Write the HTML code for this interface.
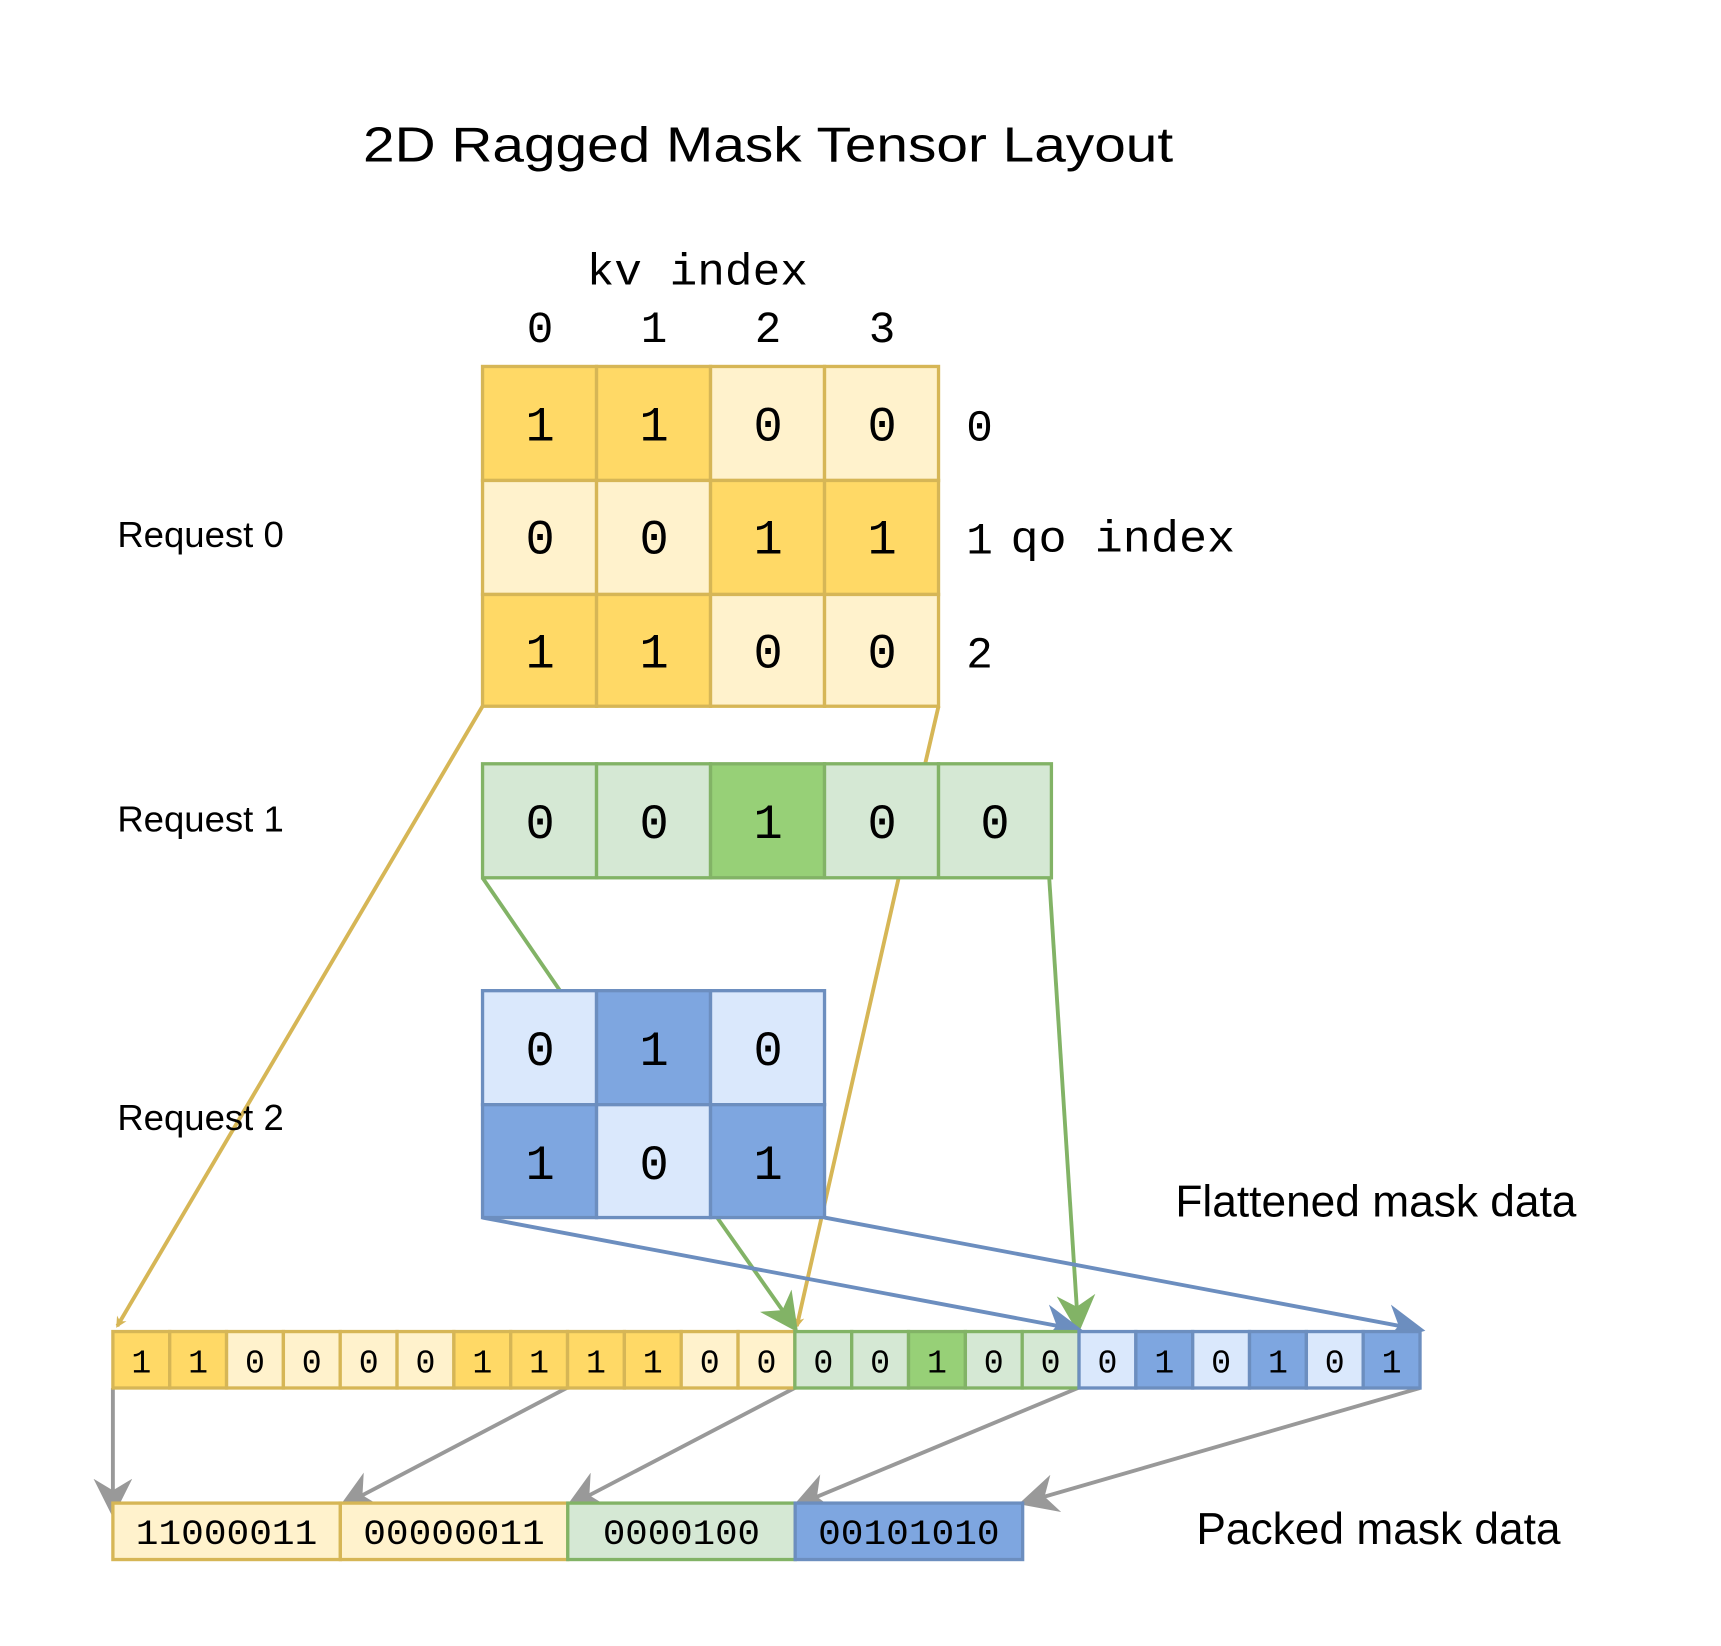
<!DOCTYPE html>
<html><head><meta charset="utf-8"><style>
html,body{margin:0;padding:0;background:#fff;}
svg{display:block}
.m{font-family:"Liberation Mono","DejaVu Sans Mono",monospace;fill:#000}
.s{font-family:"Liberation Sans",sans-serif;fill:#000}
</style></head><body>
<svg width="1721" height="1646" viewBox="0 0 1555 1487" xmlns="http://www.w3.org/2000/svg">
<defs>
<marker id="ay" markerWidth="10" markerHeight="10" refX="8" refY="5" orient="auto" markerUnits="userSpaceOnUse" viewBox="0 0 10 10"><path d="M0,0 L10,5 L0,10 L3,5 Z" fill="#D6B656"/></marker>
<marker id="ag" markerWidth="10" markerHeight="10" refX="8" refY="5" orient="auto" viewBox="0 0 10 10"><path d="M0,0 L10,5 L0,10 L3,5 Z" fill="#82B366"/></marker>
<marker id="ab" markerWidth="10" markerHeight="10" refX="8" refY="5" orient="auto" viewBox="0 0 10 10"><path d="M0,0 L10,5 L0,10 L3,5 Z" fill="#6C8EBF"/></marker>
<marker id="ax" markerWidth="10" markerHeight="10" refX="8" refY="5" orient="auto" viewBox="0 0 10 10"><path d="M0,0 L10,5 L0,10 L3,5 Z" fill="#999"/></marker>
</defs>
<style>
.y1{fill:#FFD966;stroke:#D6B656;stroke-width:3}
.y0{fill:#FFF2CC;stroke:#D6B656;stroke-width:3}
.g1{fill:#97D077;stroke:#82B366;stroke-width:3}
.g0{fill:#D5E8D4;stroke:#82B366;stroke-width:3}
.b1{fill:#7EA6E0;stroke:#6C8EBF;stroke-width:3}
.b0{fill:#DAE8FC;stroke:#6C8EBF;stroke-width:3}
</style>

<text class="s" x="694" y="146" font-size="44" text-anchor="middle" textLength="732" lengthAdjust="spacingAndGlyphs">2D Ragged Mask Tensor Layout</text>
<text class="m" x="630" y="257" font-size="40" text-anchor="middle" textLength="200" lengthAdjust="spacingAndGlyphs">kv index</text>
<g class="m" font-size="40" text-anchor="middle">
<text x="488" y="309">0</text><text x="591" y="309">1</text><text x="694" y="309">2</text><text x="797" y="309">3</text>
</g>

<!-- connectors behind -->
<g fill="none" stroke-width="3.5">
<line x1="436" y1="638" x2="106" y2="1198" stroke="#D6B656" marker-end="url(#ay)"/>
<polyline points="848,638 812,793 720,1198" stroke="#D6B656" marker-end="url(#ay)"/>
<line x1="436" y1="793" x2="506" y2="895" stroke="#82B366"/>
<line x1="648" y1="1100" x2="717" y2="1198" stroke="#82B366" marker-end="url(#ag)"/>
<line x1="948" y1="793" x2="974" y2="1198" stroke="#82B366" marker-end="url(#ag)"/>
<line x1="436" y1="1100" x2="972" y2="1201" stroke="#6C8EBF" marker-end="url(#ab)"/>
<line x1="745" y1="1100" x2="1281" y2="1201" stroke="#6C8EBF" marker-end="url(#ab)"/>
<line x1="102" y1="1254" x2="102" y2="1364" stroke="#999" marker-end="url(#ax)"/>
<line x1="512" y1="1254" x2="312" y2="1359" stroke="#999" marker-end="url(#ax)"/>
<line x1="718" y1="1254" x2="517" y2="1359" stroke="#999" marker-end="url(#ax)"/>
<line x1="974" y1="1254" x2="722" y2="1359" stroke="#999" marker-end="url(#ax)"/>
<line x1="1283" y1="1254" x2="927" y2="1357" stroke="#999" marker-end="url(#ax)"/>
</g>

<!-- Request 0 grid -->
<rect class="y1" x="436" y="331" width="103" height="103"/><rect class="y1" x="539" y="331" width="103" height="103"/><rect class="y0" x="642" y="331" width="103" height="103"/><rect class="y0" x="745" y="331" width="103" height="103"/>
<rect class="y0" x="436" y="434" width="103" height="103"/><rect class="y0" x="539" y="434" width="103" height="103"/><rect class="y1" x="642" y="434" width="103" height="103"/><rect class="y1" x="745" y="434" width="103" height="103"/>
<rect class="y1" x="436" y="537" width="103" height="101"/><rect class="y1" x="539" y="537" width="103" height="101"/><rect class="y0" x="642" y="537" width="103" height="101"/><rect class="y0" x="745" y="537" width="103" height="101"/>
<g class="m" font-size="44" text-anchor="middle">
<text x="488" y="398">1</text><text x="591" y="398">1</text><text x="694" y="398">0</text><text x="797" y="398">0</text>
<text x="488" y="500">0</text><text x="591" y="500">0</text><text x="694" y="500">1</text><text x="797" y="500">1</text>
<text x="488" y="603">1</text><text x="591" y="603">1</text><text x="694" y="603">0</text><text x="797" y="603">0</text>
</g>
<g class="m" font-size="40">
<text x="873" y="398">0</text><text x="873" y="500">1</text><text x="873" y="603">2</text>
<text x="913" y="498" textLength="203" lengthAdjust="spacingAndGlyphs">qo index</text>
</g>

<!-- Request 1 -->
<rect class="g0" x="436" y="690" width="103" height="103"/><rect class="g0" x="539" y="690" width="103" height="103"/><rect class="g1" x="642" y="690" width="103" height="103"/><rect class="g0" x="745" y="690" width="103" height="103"/><rect class="g0" x="848" y="690" width="102" height="103"/>
<g class="m" font-size="44" text-anchor="middle">
<text x="488" y="757">0</text><text x="591" y="757">0</text><text x="694" y="757">1</text><text x="797" y="757">0</text><text x="899" y="757">0</text>
</g>

<!-- Request 2 -->
<rect class="b0" x="436" y="895" width="103" height="103"/><rect class="b1" x="539" y="895" width="103" height="103"/><rect class="b0" x="642" y="895" width="103" height="103"/>
<rect class="b1" x="436" y="998" width="103" height="102"/><rect class="b0" x="539" y="998" width="103" height="102"/><rect class="b1" x="642" y="998" width="103" height="102"/>
<g class="m" font-size="44" text-anchor="middle">
<text x="488" y="962">0</text><text x="591" y="962">1</text><text x="694" y="962">0</text>
<text x="488" y="1065">1</text><text x="591" y="1065">0</text><text x="694" y="1065">1</text>
</g>

<g class="s" font-size="33">
<text x="106" y="494">Request 0</text>
<text x="106" y="751">Request 1</text>
<text x="106" y="1021">Request 2</text>
</g>
<g class="s" font-size="40">
<text x="1062" y="1099">Flattened mask data</text>
<text x="1081" y="1395">Packed mask data</text>
</g>

<!-- Flattened -->
<g>
<rect class="y1" x="102" y="1203" width="51.35" height="51"/>
<rect class="y1" x="153.35" y="1203" width="51.35" height="51"/>
<rect class="y0" x="204.7" y="1203" width="51.35" height="51"/>
<rect class="y0" x="256.05" y="1203" width="51.35" height="51"/>
<rect class="y0" x="307.4" y="1203" width="51.35" height="51"/>
<rect class="y0" x="358.75" y="1203" width="51.35" height="51"/>
<rect class="y1" x="410.1" y="1203" width="51.35" height="51"/>
<rect class="y1" x="461.45" y="1203" width="51.35" height="51"/>
<rect class="y1" x="512.8" y="1203" width="51.35" height="51"/>
<rect class="y1" x="564.15" y="1203" width="51.35" height="51"/>
<rect class="y0" x="615.5" y="1203" width="51.35" height="51"/>
<rect class="y0" x="666.85" y="1203" width="51.35" height="51"/>
<rect class="g0" x="718.2" y="1203" width="51.35" height="51"/>
<rect class="g0" x="769.55" y="1203" width="51.35" height="51"/>
<rect class="g1" x="820.9" y="1203" width="51.35" height="51"/>
<rect class="g0" x="872.25" y="1203" width="51.35" height="51"/>
<rect class="g0" x="923.6" y="1203" width="51.35" height="51"/>
<rect class="b0" x="974.95" y="1203" width="51.35" height="51"/>
<rect class="b1" x="1026.3" y="1203" width="51.35" height="51"/>
<rect class="b0" x="1077.65" y="1203" width="51.35" height="51"/>
<rect class="b1" x="1129" y="1203" width="51.35" height="51"/>
<rect class="b0" x="1180.35" y="1203" width="51.35" height="51"/>
<rect class="b1" x="1231.7" y="1203" width="51.35" height="51"/>
</g>
<g class="m" font-size="30" text-anchor="middle">
<text x="127.7" y="1240">1</text><text x="179" y="1240">1</text><text x="230.4" y="1240">0</text><text x="281.7" y="1240">0</text><text x="333.1" y="1240">0</text><text x="384.4" y="1240">0</text><text x="435.8" y="1240">1</text><text x="487.1" y="1240">1</text><text x="538.5" y="1240">1</text><text x="589.8" y="1240">1</text><text x="641.2" y="1240">0</text><text x="692.5" y="1240">0</text>
<text x="743.9" y="1240">0</text><text x="795.2" y="1240">0</text><text x="846.6" y="1240">1</text><text x="897.9" y="1240">0</text><text x="949.3" y="1240">0</text>
<text x="1000.6" y="1240">0</text><text x="1052" y="1240">1</text><text x="1103.3" y="1240">0</text><text x="1154.7" y="1240">1</text><text x="1206" y="1240">0</text><text x="1257.4" y="1240">1</text>
</g>

<!-- Packed -->
<rect class="y0" x="102" y="1358" width="205.5" height="51"/>
<rect class="y0" x="307.5" y="1358" width="205.5" height="51"/>
<rect class="g0" x="513" y="1358" width="205.5" height="51"/>
<rect class="b1" x="718.5" y="1358" width="205.5" height="51"/>
<g class="m" font-size="32" text-anchor="middle">
<text x="204.7" y="1395" textLength="164" lengthAdjust="spacingAndGlyphs">11000011</text>
<text x="410.2" y="1395" textLength="164" lengthAdjust="spacingAndGlyphs">00000011</text>
<text x="615.7" y="1395" textLength="142" lengthAdjust="spacingAndGlyphs">0000100</text>
<text x="821.2" y="1395" textLength="164" lengthAdjust="spacingAndGlyphs">00101010</text>
</g>
</svg>
</body></html>
